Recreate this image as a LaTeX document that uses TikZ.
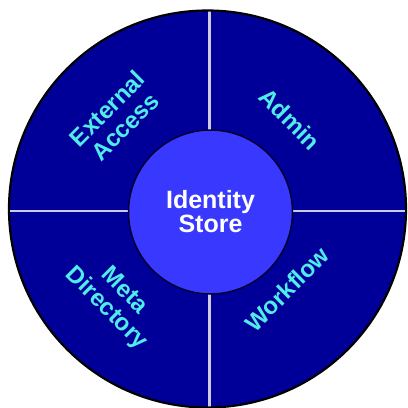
\documentclass[tikz,border=0pt]{standalone}
\usepackage{fontspec}
\setmainfont{Liberation Sans}
\definecolor{navy}{RGB}{0,0,153}
\definecolor{innerblue}{RGB}{56,56,255}
\definecolor{labelcyan}{RGB}{80,235,235}
\definecolor{divider}{RGB}{204,204,221}
\begin{document}
\begin{tikzpicture}[x=1pt,y=-1pt,
  ring/.style={circle,draw=black,line width=2.2pt,fill=navy,minimum size=397pt,inner sep=0pt},
  hub/.style={circle,draw={rgb,255:red,0;green,0;blue,50},line width=1.5pt,fill=innerblue,minimum size=164pt,inner sep=0pt,
    text=white,font=\bfseries\fontsize{25}{24}\selectfont,align=center},
  sector/.style={text=labelcyan,font=\bfseries\fontsize{24}{25}\selectfont,align=center,inner sep=0pt},
  divline/.style={draw=divider,line width=2.6pt}]
\useasboundingbox (0,0) rectangle (408,408);
\node[ring] (outer) at (207.5,209) {};
\begin{scope}
  \clip (207.5,209) circle (197.5pt);
  \coordinate (vt) at (209.5,0);
  \coordinate (vb) at (209.5,408);
  \coordinate (hl) at (0,211);
  \coordinate (hr) at (408,211);
  \draw[divline] (vt) -- (vb);
  \draw[divline] (hl) -- (hr);
\end{scope}
\node[hub] (store) at (210.5,212) {Identity\\Store};
\node[sector,rotate=45] (ext) at (116,117.5) {External\\Access};
\node[sector,rotate=-45] (admin) at (290,119) {Admin};
\node[sector,rotate=-45] (meta) at (115,300) {Meta\\Directory};
\node[sector,rotate=45] (work) at (287,289) {Workflow};
\end{tikzpicture}
\end{document}
